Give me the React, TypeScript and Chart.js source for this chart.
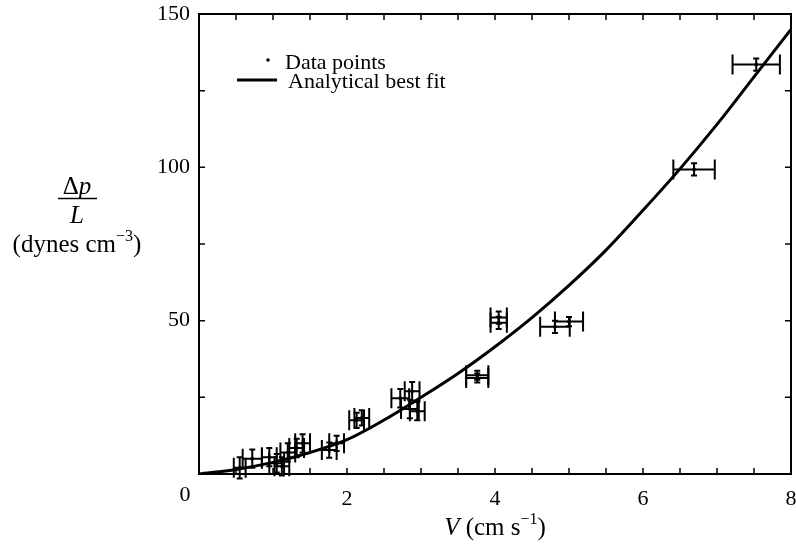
import React, { useEffect, useRef } from "react";
import { Chart, registerables } from "chart.js";

Chart.register(...registerables);

// Analytical best-fit curve
const curveV = [0, 0.5, 1, 1.5, 2, 2.5, 3, 3.5, 4, 4.5, 5, 5.5, 6, 6.5, 7, 7.5, 8];
const curveP = [0, 1.5, 3.8, 7, 11.2, 17.6, 25, 32.8, 41.5, 51, 61.5, 73, 86, 99.5, 114, 129.5, 145];

// Measured data points with error estimates
const pointsV = [0.55, 0.72, 0.95, 1.05, 1.12, 1.2, 1.32, 1.4, 1.76, 1.86, 2.13, 2.2, 2.72, 2.88, 2.85, 2.95, 3.76, 3.76, 4.05, 4.05, 4.81, 5.0, 6.69, 7.53];
const pointsP = [2, 5, 5.5, 3.5, 2.5, 7, 8.5, 10, 7.8, 10, 17.5, 18.3, 24.7, 27, 21.2, 20.5, 31.3, 32.2, 51, 49.3, 48, 49.7, 99.3, 133.5];
const xErr = [0.08, 0.13, 0.1, 0.1, 0.1, 0.1, 0.1, 0.1, 0.1, 0.1, 0.1, 0.1, 0.12, 0.1, 0.12, 0.1, 0.15, 0.15, 0.11, 0.11, 0.2, 0.19, 0.28, 0.32];
const yErr = [3.5, 3, 3, 3, 3, 3, 3, 3, 2.5, 2.5, 2.5, 2.5, 3, 3, 3, 3, 1.5, 1.5, 2, 2, 2, 1.5, 2, 2];

// Axis ticks
const xLabelValues = [2, 4, 6, 8];
const yLabelValues = [50, 100, 150];

const SERIF = "'Liberation Serif', 'DejaVu Serif', serif";

const errorBarPlugin = {
  id: "errorBars",
  afterDatasetsDraw(chart: any) {
    const ctx = chart.ctx;
    const xs = chart.scales.x;
    const ys = chart.scales.y;
    ctx.save();
    ctx.strokeStyle = "#000";
    ctx.lineWidth = 2;
    for (let i = 0; i < pointsV.length; i++) {
      const cx = xs.getPixelForValue(pointsV[i]);
      const cy = ys.getPixelForValue(pointsP[i]);
      const x1 = xs.getPixelForValue(pointsV[i] - xErr[i]);
      const x2 = xs.getPixelForValue(pointsV[i] + xErr[i]);
      const y1 = ys.getPixelForValue(pointsP[i] + yErr[i]);
      const y2 = ys.getPixelForValue(pointsP[i] - yErr[i]);
      ctx.beginPath();
      ctx.moveTo(x1, cy);
      ctx.lineTo(x2, cy);
      ctx.moveTo(x1, cy - 10);
      ctx.lineTo(x1, cy + 10);
      ctx.moveTo(x2, cy - 10);
      ctx.lineTo(x2, cy + 10);
      ctx.moveTo(cx, y1);
      ctx.lineTo(cx, y2);
      ctx.moveTo(cx - 3, y1);
      ctx.lineTo(cx + 3, y1);
      ctx.moveTo(cx - 3, y2);
      ctx.lineTo(cx + 3, y2);
      ctx.stroke();
    }
    ctx.restore();
  },
};

const framePlugin = {
  id: "frameAndText",
  afterDraw(chart: any) {
    const ctx = chart.ctx;
    const ca = chart.chartArea;
    const xs = chart.scales.x;
    const ys = chart.scales.y;
    ctx.save();
    ctx.strokeStyle = "#000";
    ctx.fillStyle = "#000";
    ctx.lineWidth = 2;
    ctx.strokeRect(ca.left, ca.top, ca.right - ca.left, ca.bottom - ca.top);
    ctx.lineWidth = 1.5;
    ctx.beginPath();
    xs.ticks.forEach((t: any) => {
      if (t.value <= xs.min || t.value >= xs.max) return;
      const px = xs.getPixelForValue(t.value);
      ctx.moveTo(px, ca.bottom);
      ctx.lineTo(px, ca.bottom - 6);
      ctx.moveTo(px, ca.top);
      ctx.lineTo(px, ca.top + 6);
    });
    ys.ticks.forEach((t: any) => {
      if (t.value <= ys.min || t.value >= ys.max) return;
      const py = ys.getPixelForValue(t.value);
      ctx.moveTo(ca.left, py);
      ctx.lineTo(ca.left + 6, py);
      ctx.moveTo(ca.right, py);
      ctx.lineTo(ca.right - 6, py);
    });
    ctx.stroke();

    // origin label
    ctx.font = `22px ${SERIF}`;
    ctx.textAlign = "center";
    ctx.textBaseline = "alphabetic";
    ctx.fillText("0", xs.getPixelForValue(0) - 14, 501);

    // x-axis title: V (cm s^-1)
    const cxT = (ca.left + ca.right) / 2;
    const base = 535;
    ctx.textAlign = "left";
    ctx.font = `italic 25px ${SERIF}`;
    const wV = ctx.measureText("V").width;
    ctx.font = `25px ${SERIF}`;
    const w1 = ctx.measureText(" (cm s").width;
    const w3 = ctx.measureText(")").width;
    ctx.font = `16px ${SERIF}`;
    const w2 = ctx.measureText("\u22121").width;
    let sx = cxT - (wV + w1 + w2 + w3) / 2;
    ctx.font = `italic 25px ${SERIF}`;
    ctx.fillText("V", sx, base);
    sx += wV;
    ctx.font = `25px ${SERIF}`;
    ctx.fillText(" (cm s", sx, base);
    sx += w1;
    ctx.font = `16px ${SERIF}`;
    ctx.fillText("\u22121", sx, base - 11);
    sx += w2;
    ctx.font = `25px ${SERIF}`;
    ctx.fillText(")", sx, base);

    // y-axis title: Δp / L (dynes cm^-3)
    const cyx = 77;
    ctx.font = `25px ${SERIF}`;
    const wD = ctx.measureText("\u0394").width;
    ctx.font = `italic 25px ${SERIF}`;
    const wp = ctx.measureText("p").width;
    const dx = cyx - (wD + wp) / 2;
    ctx.font = `25px ${SERIF}`;
    ctx.fillText("\u0394", dx, 194);
    ctx.font = `italic 25px ${SERIF}`;
    ctx.fillText("p", dx + wD, 194);
    ctx.lineWidth = 1.5;
    ctx.beginPath();
    ctx.moveTo(58, 198.5);
    ctx.lineTo(97, 198.5);
    ctx.stroke();
    ctx.textAlign = "center";
    ctx.fillText("L", cyx, 223);
    ctx.textAlign = "left";
    ctx.font = `25px ${SERIF}`;
    const wa = ctx.measureText("(dynes cm").width;
    const wc = ctx.measureText(")").width;
    ctx.font = `16px ${SERIF}`;
    const wb = ctx.measureText("\u22123").width;
    let ux = cyx - (wa + wb + wc) / 2;
    ctx.font = `25px ${SERIF}`;
    ctx.fillText("(dynes cm", ux, 252);
    ux += wa;
    ctx.font = `16px ${SERIF}`;
    ctx.fillText("\u22123", ux, 241);
    ux += wb;
    ctx.font = `25px ${SERIF}`;
    ctx.fillText(")", ux, 252);

    // legend
    const lx = ca.left;
    const ly = ca.top;
    ctx.font = `22px ${SERIF}`;
    ctx.textBaseline = "middle";
    ctx.beginPath();
    ctx.arc(lx + 69, ly + 46, 1.8, 0, Math.PI * 2);
    ctx.fill();
    ctx.fillText(chart.data.datasets[1].label, lx + 86, ly + 49);
    ctx.lineWidth = 3;
    ctx.beginPath();
    ctx.moveTo(lx + 38, ly + 66);
    ctx.lineTo(lx + 78, ly + 66);
    ctx.stroke();
    ctx.fillText(chart.data.datasets[0].label, lx + 89, ly + 68);
    ctx.restore();
  },
};

export default function App() {
  const ref = useRef<HTMLCanvasElement | null>(null);
  useEffect(() => {
    if (!ref.current) return;
    const chart = new Chart(ref.current, {
      type: "scatter",
      data: {
        datasets: [
          {
            type: "line",
            label: "Analytical best fit",
            data: curveV.map((v, i) => ({ x: v, y: curveP[i] })),
            borderColor: "#000",
            borderWidth: 3,
            pointRadius: 0,
            cubicInterpolationMode: "monotone",
            fill: false,
          } as any,
          {
            label: "Data points",
            data: pointsV.map((v, i) => ({ x: v, y: pointsP[i] })),
            backgroundColor: "#000",
            borderColor: "#000",
            pointRadius: 1.5,
          },
        ],
      },
      plugins: [errorBarPlugin, framePlugin],
      options: {
        animation: false,
        responsive: false,
        devicePixelRatio: 1,
        layout: { padding: { top: 14, right: 1, left: 0, bottom: 0 } },
        plugins: { legend: { display: false }, tooltip: { enabled: false } },
        scales: {
          x: {
            type: "linear",
            min: 0,
            max: 8,
            grid: { display: false, drawTicks: false },
            border: { display: false },
            ticks: {
              stepSize: 0.5,
              autoSkip: false,
              maxRotation: 0,
              padding: 12,
              color: "#000",
              font: { family: SERIF, size: 22 },
              callback: (v: any) => (xLabelValues.includes(Number(v)) ? String(v) : ""),
            },
            afterFit: (s: any) => {
              s.height = 73;
              s.paddingLeft = 0;
              s.paddingRight = 0;
            },
          },
          y: {
            type: "linear",
            min: 0,
            max: 150,
            grid: { display: false, drawTicks: false },
            border: { display: false },
            ticks: {
              stepSize: 25,
              autoSkip: false,
              padding: 9,
              color: "#000",
              font: { family: SERIF, size: 22 },
              callback: (v: any) => (yLabelValues.includes(Number(v)) ? String(v) : ""),
            },
            afterFit: (s: any) => {
              s.width = 199;
              s.paddingTop = 0;
              s.paddingBottom = 0;
            },
          },
        },
      },
    });
    return () => chart.destroy();
  }, []);
  return (
    <div style={{ position: "absolute", left: 0, top: 0, width: 796, height: 547, background: "#fff" }}>
      <canvas ref={ref} width={796} height={547} style={{ display: "block" }} />
    </div>
  );
}
